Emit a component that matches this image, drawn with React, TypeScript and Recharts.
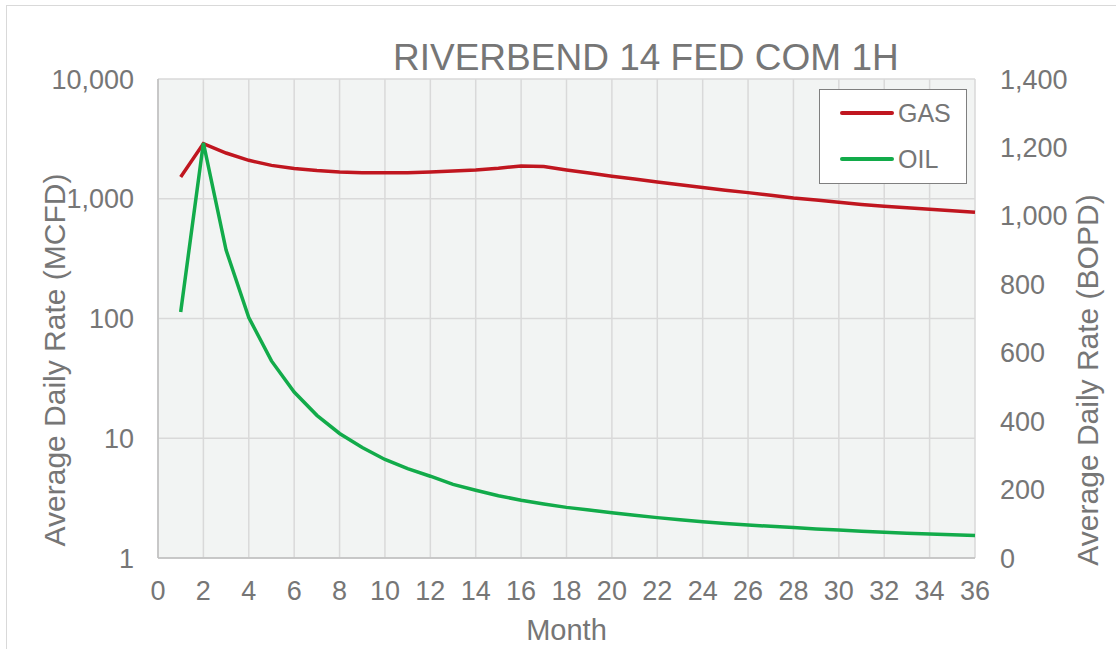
import { CartesianGrid, Legend, Line, LineChart, XAxis, YAxis } from "recharts";

const months = [
  1, 2, 3, 4, 5, 6, 7, 8, 9, 10, 11, 12, 13, 14, 15, 16, 17, 18,
  19, 20, 21, 22, 23, 24, 25, 26, 27, 28, 29, 30, 31, 32, 33, 34, 35, 36,
];

// MCFD, left log axis
const gas = [
  1520, 2890, 2410, 2094, 1900, 1786, 1718, 1672, 1652, 1645, 1652, 1672,
  1705, 1740, 1795, 1879, 1855, 1740, 1640, 1540, 1460, 1380, 1310, 1240,
  1180, 1125, 1070, 1015, 975, 933, 897, 864, 840, 816, 793, 771,
];

// BOPD, right linear axis
const oil = [
  719, 1213, 900, 703, 576, 485, 417, 364, 323, 288, 261, 239, 215, 198,
  182, 169, 158, 148, 140, 132, 125, 118, 112, 106, 101, 96.5, 92.5, 89, 85,
  82, 78.5, 75, 72.5, 70, 68, 66,
];

const monthTicks = [0, 2, 4, 6, 8, 10, 12, 14, 16, 18, 20, 22, 24, 26, 28, 30, 32, 34, 36];
const mcfdTicks = [1, 10, 100, 1000, 10000];
const bopdTicks = [0, 200, 400, 600, 800, 1000, 1200, 1400];

const data = months.map((m, i) => ({ month: m, gas: gas[i], oil: oil[i] }));

const FONT = '"Liberation Sans", Arial, sans-serif';
const TEXT = "#767676";
const GAS_COLOR = "#C0161F";
const OIL_COLOR = "#12AB4A";

const fmt = (v: number) => v.toLocaleString("en-US");

function LegendBox() {
  const items = [
    { name: "GAS", color: GAS_COLOR },
    { name: "OIL", color: OIL_COLOR },
  ];
  return (
    <div
      style={{
        width: 148,
        height: 95,
        boxSizing: "border-box",
        border: "1.5px solid #7f7f7f",
        background: "#fff",
        paddingTop: 0,
      }}
    >
      {items.map((it) => (
        <div
          key={it.name}
          style={{ display: "flex", alignItems: "center", height: 46, paddingLeft: 20 }}
        >
          <span style={{ width: 54, height: 3.5, background: it.color, borderRadius: 2 }} />
          <span style={{ marginLeft: 4, fontSize: 25, color: TEXT, fontFamily: FONT }}>
            {it.name}
          </span>
        </div>
      ))}
    </div>
  );
}

export default function App() {
  return (
    <div
      style={{
        position: "absolute",
        left: 0,
        top: 0,
        width: 1116,
        height: 649,
        overflow: "hidden",
        background: "#fff",
        fontFamily: FONT,
      }}
    >
      <div
        style={{
          position: "absolute",
          left: 6,
          top: 5,
          width: 1130,
          height: 660,
          border: "1.5px solid #d9d9d9",
        }}
      />
      <div
        style={{
          position: "absolute",
          left: 393,
          top: 35,
          fontSize: 37,
          color: TEXT,
          whiteSpace: "nowrap",
          lineHeight: "46px",
        }}
      >
        RIVERBEND 14 FED COM 1H
      </div>
      <div style={{ position: "absolute", left: 0, top: 0 }}>
        <LineChart
          width={1116}
          height={649}
          data={data}
          margin={{ top: 79, right: 0, bottom: 0, left: 0 }}
        >
          <CartesianGrid
            yAxisId="left"
            fill="#F2F4F3"
            stroke="#D9D9D9"
            strokeWidth={1.5}
          />
          <XAxis
            dataKey="month"
            type="number"
            domain={[0, 36]}
            ticks={monthTicks}
            interval={0}
            height={91}
            tickSize={0}
            tickMargin={23}
            tick={{ fill: TEXT, fontSize: 27, fontFamily: FONT }}
            axisLine={{ stroke: "#BFBFBF", strokeWidth: 1.5 }}
            label={{
              value: "Month",
              position: "insideBottom",
              offset: 9,
              fill: TEXT,
              fontSize: 29,
              fontFamily: FONT,
            }}
          />
          <YAxis
            yAxisId="left"
            scale="log"
            domain={[1, 10000]}
            ticks={mcfdTicks}
            interval={0}
            allowDataOverflow
            width={158}
            tickSize={0}
            tickMargin={24}
            tickFormatter={fmt}
            tick={{ fill: TEXT, fontSize: 27, fontFamily: FONT }}
            axisLine={{ stroke: "#BFBFBF", strokeWidth: 1.5 }}
            label={{
              content: () => (
                <text
                  x={65}
                  y={360}
                  transform="rotate(-90 65 360)"
                  textAnchor="middle"
                  fill={TEXT}
                  fontSize={30}
                  fontFamily={FONT}
                >
                  Average Daily Rate (MCFD)
                </text>
              ),
            }}
          />
          <YAxis
            yAxisId="right"
            orientation="right"
            domain={[0, 1400]}
            ticks={bopdTicks}
            interval={0}
            width={141}
            tickSize={0}
            tickMargin={25}
            tickFormatter={fmt}
            tick={{ fill: TEXT, fontSize: 27, fontFamily: FONT }}
            axisLine={false}
            label={{
              content: () => (
                <text
                  x={1098}
                  y={380}
                  transform="rotate(-90 1098 380)"
                  textAnchor="middle"
                  fill={TEXT}
                  fontSize={30}
                  fontFamily={FONT}
                >
                  Average Daily Rate (BOPD)
                </text>
              ),
            }}
          />
          <Legend
            layout="horizontal"
            verticalAlign="middle"
            align="center"
            wrapperStyle={{ left: 819, top: 89, width: 148, height: 95 }}
            content={() => <LegendBox />}
          />
          <Line
            yAxisId="left"
            dataKey="gas"
            name="GAS"
            type="linear"
            stroke={GAS_COLOR}
            strokeWidth={3.5}
            dot={false}
            isAnimationActive={false}
          />
          <Line
            yAxisId="right"
            dataKey="oil"
            name="OIL"
            type="linear"
            stroke={OIL_COLOR}
            strokeWidth={3.5}
            dot={false}
            isAnimationActive={false}
          />
        </LineChart>
      </div>
    </div>
  );
}
